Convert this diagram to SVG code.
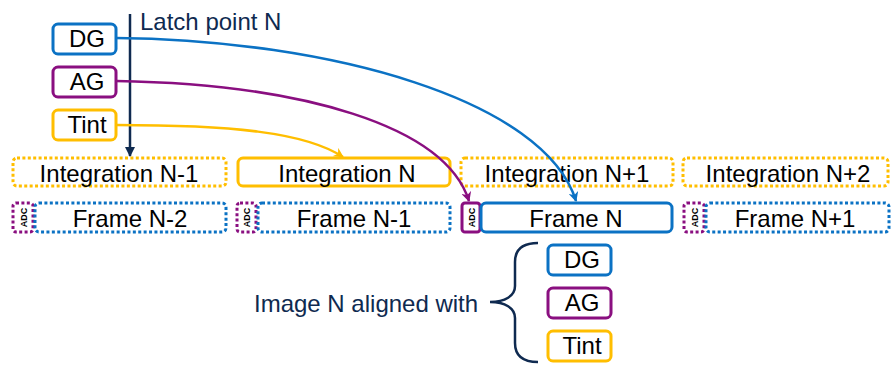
<svg xmlns="http://www.w3.org/2000/svg" width="891" height="365" viewBox="0 0 891 365">
<style>
.t{font-family:"Liberation Sans",Arial,sans-serif;font-size:24px;fill:#000;text-anchor:middle}
.nv{fill:#0f2a50}
.b{fill:#fff;stroke-width:3}
.dot{fill:#fff;stroke-width:3;stroke-dasharray:3 2.4}
.blue{stroke:#0b72c4}
.pur{stroke:#8a0f80}
.yel{stroke:#ffbe00}
.adc{font-family:"Liberation Sans",Arial,sans-serif;font-size:9px;font-weight:bold;fill:#000;text-anchor:middle}
.c{fill:none;stroke-width:2.5}
</style>
<defs>
<marker id="aN" viewBox="0 0 10 10" refX="9" refY="5" markerWidth="4" markerHeight="4" orient="auto"><path d="M0,0 L10,5 L0,10 z" fill="#0f2a50"/></marker>
<marker id="aB" viewBox="0 0 10 10" refX="9" refY="5" markerWidth="4" markerHeight="4" orient="auto"><path d="M0,0 L10,5 L0,10 L3,5 z" fill="#0b72c4"/></marker>
<marker id="aP" viewBox="0 0 10 10" refX="9" refY="5" markerWidth="4" markerHeight="4" orient="auto"><path d="M0,0 L10,5 L0,10 L3,5 z" fill="#8a0f80"/></marker>
<marker id="aY" viewBox="0 0 10 10" refX="9" refY="5" markerWidth="4" markerHeight="4" orient="auto"><path d="M0,0 L10,5 L0,10 L3,5 z" fill="#ffbe00"/></marker>
</defs>

<g id="src-dg"><rect class="b blue" x="53" y="24" width="63" height="30" rx="5"/><text class="t" x="87" y="47">DG</text></g>
<g id="src-ag"><rect class="b pur" x="53" y="67" width="63" height="30" rx="5"/><text class="t" x="87" y="90">AG</text></g>
<g id="src-tint"><rect class="b yel" x="53" y="110" width="63" height="30" rx="5"/><text class="t" x="87" y="133">Tint</text></g>

<g id="int-n-1"><rect class="dot yel" x="13" y="158" width="213" height="28" rx="4"/><text class="t" x="119" y="182">Integration N-1</text></g>
<g id="int-n"><rect class="b yel" x="238" y="158" width="212" height="28" rx="5"/><text class="t" x="347" y="182">Integration N</text></g>
<g id="int-n+1"><rect class="dot yel" x="461" y="158" width="212" height="28" rx="4"/><text class="t" x="567" y="182">Integration N+1</text></g>
<g id="int-n+2"><rect class="dot yel" x="683" y="158" width="205" height="28" rx="4"/><text class="t" x="788" y="182">Integration N+2</text></g>

<g id="adc1"><rect class="dot pur" x="13" y="203" width="20" height="29" rx="3"/><text class="adc" transform="translate(26.5,217.5) rotate(-90)">ADC</text></g>
<g id="frame-n-2"><rect class="dot blue" x="35" y="203" width="191" height="29" rx="4"/><text class="t" x="130" y="227">Frame N-2</text></g>
<g id="adc2"><rect class="dot pur" x="237" y="203" width="19" height="29" rx="3"/><text class="adc" transform="translate(250,217.5) rotate(-90)">ADC</text></g>
<g id="frame-n-1"><rect class="dot blue" x="258" y="203" width="192" height="29" rx="4"/><text class="t" x="354" y="227">Frame N-1</text></g>
<g id="adc3"><rect class="b pur" x="462" y="203" width="18" height="29" rx="3"/><text class="adc" transform="translate(474.5,217.5) rotate(-90)">ADC</text></g>
<g id="frame-n"><rect class="b blue" x="481" y="203" width="191" height="29" rx="5"/><text class="t" x="576" y="227">Frame N</text></g>
<g id="adc4"><rect class="dot pur" x="684" y="203" width="20" height="29" rx="3"/><text class="adc" transform="translate(697.5,217.5) rotate(-90)">ADC</text></g>
<g id="frame-n+1"><rect class="dot blue" x="706" y="203" width="183" height="29" rx="4"/><text class="t" x="795" y="227">Frame N+1</text></g>

<g id="aligned-dg"><rect class="b blue" x="548" y="245" width="63" height="30" rx="5"/><text class="t" x="582" y="268">DG</text></g>
<g id="aligned-ag"><rect class="b pur" x="548" y="288" width="63" height="30" rx="5"/><text class="t" x="582" y="311">AG</text></g>
<g id="aligned-tint"><rect class="b yel" x="548" y="331" width="63" height="30" rx="5"/><text class="t" x="582" y="354">Tint</text></g>

<g id="latch-label"><text class="t nv" x="140" y="30" style="text-anchor:start">Latch point N</text></g>
<g id="image-label"><text class="t nv" x="254" y="312" style="text-anchor:start">Image N aligned with</text></g>

<g id="connectors">
<path class="c" stroke="#0f2a50" stroke-width="2" d="M130,14 V156" marker-end="url(#aN)"/>
<path class="c" stroke="#0b72c4" d="M116,38 C330,40 545,100 576,201" marker-end="url(#aB)"/>
<path class="c" stroke="#8a0f80" d="M116,81 C300,84 445,125 469,201" marker-end="url(#aP)"/>
<path class="c" stroke="#ffbe00" d="M116,125 C230,125 305,132 343,157" marker-end="url(#aY)"/>
<path class="c" stroke="#0f2a50" stroke-width="2" d="M538,243 C522,243 515,250 515,262 V286 C515,296 505,302 490,302 C505,302 515,308 515,318 V343 C515,355 522,362 538,362"/>
</g>
</svg>
